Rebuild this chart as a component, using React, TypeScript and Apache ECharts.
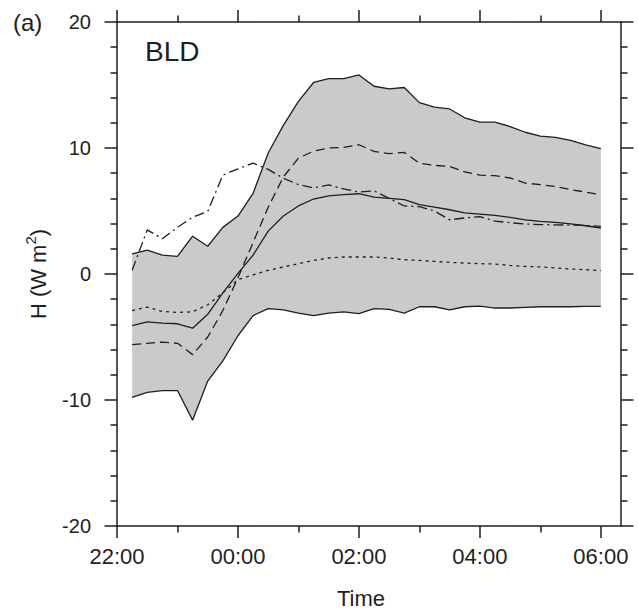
import React, { useEffect, useRef } from "react";
import * as echarts from "echarts";

// Sampling times (every 15 min through the night)
const times = [
  "22:15", "22:30", "22:45", "23:00", "23:15", "23:30", "23:45", "00:00",
  "00:15", "00:30", "00:45", "01:00", "01:15", "01:30", "01:45", "02:00",
  "02:15", "02:30", "02:45", "03:00", "03:15", "03:30", "03:45", "04:00",
  "04:15", "04:30", "04:45", "05:00", "05:15", "05:30", "05:45", "06:00",
];

// Envelope of the ensemble (shaded range)
const upper = [
  1.6, 1.9, 1.5, 1.4, 3.0, 2.2, 3.7, 4.6,
  6.4, 9.6, 11.8, 13.7, 15.2, 15.5, 15.5, 15.8,
  14.9, 14.7, 14.8, 13.6, 13.25, 13.1, 12.4, 12.05,
  12.05, 11.7, 11.25, 10.95, 10.85, 10.6, 10.25, 9.95,
];
const lower = [
  -9.8, -9.4, -9.25, -9.25, -11.6, -8.5, -6.9, -4.9,
  -3.3, -2.75, -2.85, -3.1, -3.3, -3.1, -3.0, -3.15,
  -2.75, -2.8, -3.1, -2.6, -2.6, -2.85, -2.6, -2.55,
  -2.7, -2.7, -2.65, -2.6, -2.6, -2.6, -2.57, -2.57,
];

// Ensemble mean (solid)
const mean = [
  -4.1, -3.8, -3.9, -3.95, -4.3, -3.2, -1.5, 0.05,
  1.5, 3.4, 4.6, 5.4, 5.95, 6.2, 6.3, 6.37,
  6.1, 6.0, 5.9, 5.5, 5.3, 5.1, 4.85, 4.76,
  4.65, 4.5, 4.3, 4.17, 4.1, 3.97, 3.83, 3.65,
];

// Individual members
const longDash = [
  -5.6, -5.5, -5.4, -5.5, -6.4, -5.0, -2.9, -0.3,
  2.5, 5.3, 7.7, 9.2, 9.75, 10.0, 10.05, 10.26,
  9.73, 9.55, 9.65, 8.8, 8.62, 8.54, 8.1, 7.85,
  7.8, 7.62, 7.22, 7.09, 6.95, 6.7, 6.5, 6.3,
];
const dotted = [
  -2.9, -2.62, -2.97, -3.05, -3.0, -2.44, -1.5, -0.45,
  -0.06, 0.29, 0.56, 0.82, 1.08, 1.27, 1.35, 1.35,
  1.35, 1.27, 1.13, 1.08, 1.0, 0.92, 0.87, 0.82,
  0.79, 0.68, 0.6, 0.56, 0.48, 0.4, 0.34, 0.26,
];
const dashDot = [
  0.3, 3.5, 2.8, 3.7, 4.5, 4.97, 7.85, 8.35,
  8.8, 8.3, 7.6, 7.1, 6.83, 7.07, 6.75, 6.5,
  6.6, 6.0, 5.4, 5.35, 5.0, 4.3, 4.45, 4.55,
  4.2, 4.07, 3.97, 3.92, 3.9, 3.88, 3.85, 3.78,
];

// Axis ticks (hours after 22:00)
const majorHours = [0, 2, 4, 6, 8];
const minorHours = [1, 3, 5, 7];
const hourLabels = ["22:00", "00:00", "02:00", "04:00", "06:00"];
const xMax = 25 / 3; // 06:20

const font = '"Liberation Sans", Arial, Helvetica, sans-serif';
const ink = "#1e1e1e";
const bandColor = "#c9cacc";

function hoursAfter22(t: string): number {
  const [h, m] = t.split(":").map(Number);
  return (h >= 22 ? h - 22 : h + 2) + m / 60;
}

const xs = times.map(hoursAfter22);
const pairs = (vals: number[]) => vals.map((v, i) => [xs[i], v]);

export default function App() {
  const ref = useRef<HTMLDivElement>(null);

  useEffect(() => {
    if (!ref.current) return;
    const chart = echarts.init(ref.current, null, { renderer: "svg" });

    const axisLineStyle = { color: ink, width: 1.5 };
    const baseX = {
      type: "value",
      min: 0,
      max: xMax,
      splitLine: { show: false },
    };
    const majorX = (position: string, labels: boolean) => ({
      ...baseX,
      position,
      axisLine: { show: true, onZero: false, lineStyle: axisLineStyle },
      axisTick: {
        show: true,
        customValues: majorHours,
        length: 12,
        lineStyle: axisLineStyle,
      },
      axisLabel: labels
        ? {
            show: true,
            customValues: majorHours,
            formatter: (v: number) =>
              hourLabels[majorHours.indexOf(Math.round(v))] ?? "",
            fontSize: 22,
            fontFamily: font,
            color: ink,
            margin: 19,
          }
        : { show: false },
    });
    const minorX = (position: string) => ({
      ...baseX,
      position,
      axisLine: { show: false, onZero: false },
      axisTick: {
        show: true,
        customValues: minorHours,
        length: 6.5,
        lineStyle: axisLineStyle,
      },
      axisLabel: { show: false },
    });

    const yAxis = (position: string, labels: boolean) => ({
      type: "value",
      position,
      min: -20,
      max: 20,
      interval: 10,
      splitLine: { show: false },
      axisLine: { show: true, onZero: false, lineStyle: axisLineStyle },
      axisTick: { show: true, length: 12.5, lineStyle: axisLineStyle },
      minorTick: {
        show: true,
        splitNumber: 5,
        length: 6.5,
        lineStyle: axisLineStyle,
      },
      axisLabel: labels
        ? {
            show: true,
            fontSize: 20,
            fontFamily: font,
            color: ink,
            margin: 26,
          }
        : { show: false },
      ...(labels
        ? {
            name: "{a|H (W m}{s|2}{a|)}",
            nameLocation: "middle",
            nameGap: 68,
            nameRotate: 90,
            nameTextStyle: {
              rich: {
                a: { fontSize: 22, fontFamily: font, color: ink, lineHeight: 26, verticalAlign: "bottom" },
                s: { fontSize: 15, fontFamily: font, color: ink, lineHeight: 26, verticalAlign: "top" },
              },
            },
          }
        : {}),
    });

    const lineSeries = (name: string, vals: number[], type: any) => ({
      name,
      type: "line",
      data: pairs(vals),
      symbol: "none",
      silent: true,
      z: 3,
      lineStyle: { color: ink, width: 1.3, type },
    });

    chart.setOption({
      animation: false,
      grid: { left: 117, right: 18, top: 22, bottom: 83 },
      xAxis: [
        majorX("bottom", true),
        majorX("top", false),
        minorX("bottom"),
        minorX("top"),
      ],
      yAxis: [yAxis("left", true), yAxis("right", false)],
      graphic: [
        {
          type: "text",
          left: 13,
          top: 10,
          style: { text: "(a)", font: `24px ${font}`, fill: ink },
        },
        {
          type: "text",
          left: 145,
          top: 37,
          z: 10,
          style: { text: "BLD", font: `28px ${font}`, fill: ink },
        },
        {
          type: "text",
          x: 361,
          y: 598,
          style: {
            text: "Time",
            font: `22px ${font}`,
            fill: ink,
            textAlign: "center",
            textVerticalAlign: "middle",
          },
        },
      ],
      series: [
        {
          // shaded ensemble range: polygon along upper, back along lower
          name: "range",
          type: "custom",
          silent: true,
          z: 1,
          data: [[xs[0], lower[0]]],
          renderItem: (_params: any, api: any) => {
            const top = upper.map((u, i) => api.coord([xs[i], u]));
            const bottom = lower.map((l, i) => api.coord([xs[i], l])).reverse();
            return {
              type: "polygon",
              shape: { points: top.concat(bottom) },
              style: { fill: bandColor, stroke: "none" },
            };
          },
        },
        lineSeries("upper", upper, "solid"),
        lineSeries("lower", lower, "solid"),
        lineSeries("mean", mean, "solid"),
        lineSeries("member A", longDash, [9, 5]),
        lineSeries("member B", dotted, [3, 4]),
        lineSeries("member C", dashDot, [10, 4, 2, 4]),
      ],
    });

    return () => chart.dispose();
  }, []);

  return (
    <div
      ref={ref}
      style={{
        position: "fixed",
        left: 0,
        top: 0,
        width: 639,
        height: 609,
        background: "#fff",
      }}
    />
  );
}
